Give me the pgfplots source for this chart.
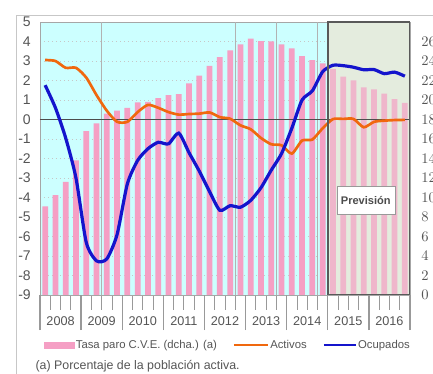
\documentclass[border=0pt]{standalone}
\usepackage{pgfplots}
\pgfplotsset{compat=1.18}
\usepackage{pgfplotstable}
\usepackage{fontspec}
\setmainfont{Liberation Sans}
\setsansfont{Liberation Sans}
\definecolor{cyanbg}{HTML}{CCFFFF}
\definecolor{barpink}{HTML}{F59FC4}
\definecolor{forebg}{HTML}{E4ECDE}
\definecolor{orangeL}{HTML}{F0680E}
\definecolor{blueL}{HTML}{1414CC}
\definecolor{txt}{HTML}{555555}

\pgfplotstableread{
q bar act ocu
0 9.1 3.05 1.76
1 10.25 3.0 0.6
2 11.6 2.65 -0.95
3 13.8 2.65 -3.0
4 16.8 2.15 -6.3
5 17.6 1.25 -7.25
6 18.6 0.45 -7.15
7 18.9 -0.12 -5.9
8 19.2 -0.12 -3.3
9 19.75 0.38 -2.1
10 19.8 0.75 -1.5
11 20.2 0.6 -1.17
12 20.5 0.38 -1.25
13 20.6 0.25 -0.7
14 21.7 0.28 -1.7
15 22.5 0.3 -2.65
16 23.5 0.36 -3.7
17 24.4 0.12 -4.66
18 25.1 0.04 -4.42
19 25.7 -0.3 -4.5
20 26.3 -0.5 -4.15
21 26.05 -0.95 -3.5
22 26.0 -1.27 -2.6
23 25.7 -1.32 -1.75
24 25.3 -1.75 -0.45
25 24.5 -1.08 1.0
26 24.1 -1.03 1.47
27 23.75 -0.45 2.45
28 23.2 0.02 2.78
29 22.4 0.03 2.76
30 22.0 0.03 2.68
31 21.3 -0.4 2.55
32 21.1 -0.12 2.56
33 20.65 -0.06 2.35
34 20.1 -0.03 2.43
35 19.7 -0.02 2.22
}\datatable

\begin{document}
\begin{tikzpicture}
\useasboundingbox (0,0) rectangle (324.75pt,-280.5pt);
\clip (0,0) rectangle (324.75pt,-280.5pt);
\fill[white] (0,0) rectangle (324.75pt,-280.5pt);
\draw[black!22, line width=0.7pt] (12pt,-400pt) -- (12pt,-11.25pt) -- (400pt,-11.25pt);

% bars (right scale)
\begin{axis}[
  at={(30pt,-221.25pt)}, anchor=south west,
  width=277.5pt, height=204.75pt, scale only axis,
  xmin=-0.5, xmax=35.5, ymin=0, ymax=28,
  axis background/.style={fill=cyanbg},
  axis line style={draw=black!35, line width=0.5pt},
  ytick={0,2,...,26}, yticklabel pos=right,
  yticklabel style={anchor=west, inner sep=0pt, xshift=8.25pt, font=\fontsize{10.5}{12}\selectfont, text=txt},
  ymajorgrids,
  major grid style={black!22, dash pattern=on 1pt off 2pt},
  tick align=outside,
  xtick pos=bottom,
  major tick length=0pt,
  tick style={black!40, line width=0.6pt},
  xtick={1.5,5.5,9.5,13.5,17.5,21.5,25.5,29.5,33.5},
  xticklabels={2008,2009,2010,2011,2012,2013,2014,2015,2016},
  xticklabel style={anchor=center, inner sep=0pt, yshift=-19.5pt, font=\fontsize{9.5}{11}\selectfont, text=txt},
  minor xtick={-0.5,0.5,...,35.5},
  minor tick length=11.25pt,
  extra x ticks={-0.5,3.5,7.5,11.5,15.5,19.5,23.5,27.5,31.5,35.5},
  extra x tick labels={},
  extra x tick style={major tick length=26.25pt, tick style={black!40, line width=1pt}},
]
\fill[forebg] (axis cs:27.5,0) rectangle (axis cs:35.5,28);
\draw[black!30, line width=0.6pt] (axis cs:5.5,0) -- (axis cs:5.5,28);
\draw[black!30, line width=0.6pt] (axis cs:18.5,0) -- (axis cs:18.5,28);
\draw[black!30, line width=0.6pt] (axis cs:22.5,0) -- (axis cs:22.5,28);
\draw[black!30, line width=0.6pt] (axis cs:26.5,0) -- (axis cs:26.5,28);
\addplot[ybar, bar width=4.3pt, fill=barpink, draw=none] table[x=q,y=bar]{\datatable};
\fill[forebg, opacity=0.3] (axis cs:27.5,0) rectangle (axis cs:35.5,28);
\end{axis}

% lines (left scale)
\begin{axis}[
  at={(30pt,-221.25pt)}, anchor=south west,
  width=277.5pt, height=204.75pt, scale only axis,
  xmin=-0.5, xmax=35.5, ymin=-9, ymax=5,
  axis line style={draw=none},
  xtick=\empty,
  ytick={-9,-8,...,5},
  major tick length=0pt,
  /pgf/number format/assume math mode=true,
  yticklabel style={anchor=east, inner sep=0pt, xshift=-6.75pt, font=\fontsize{10.5}{12}\selectfont, text=txt},
  legend style={at={(axis description cs:0.01,-0.183)}, anchor=west, draw=none, fill=none,
    inner sep=0pt, font=\fontsize{8.5}{10}\selectfont, text=txt,
    nodes={inner xsep=1pt, inner ysep=0pt},
    /tikz/every even column/.append style={column sep=11pt}},
  legend columns=3,
]
\addlegendimage{legend image code/.code={\fill[barpink] (0pt,-2.25pt) rectangle (22.5pt,2.25pt);}}
\addlegendentry{Tasa paro C.V.E. (dcha.) (a)}
\draw[black!70, line width=0.7pt] (axis cs:-0.5,0) -- (axis cs:35.5,0);
\addplot[orangeL, line width=2pt, smooth, tension=0.4, no marks,
  legend image code/.code={\draw[orangeL, line width=1.5pt] (0pt,0pt) -- (25.5pt,0pt);}]
  table[x=q,y=act]{\datatable};
\addlegendentry{Activos}
\addplot[blueL, line width=2.4pt, smooth, tension=0.4, no marks,
  legend image code/.code={\draw[blueL, line width=1.5pt] (0pt,0pt) -- (24pt,0pt);}]
  table[x=q,y=ocu]{\datatable};
\addlegendentry{Ocupados}
\draw[black!65, line width=1.1pt] (axis cs:27.5,-9) rectangle (axis cs:35.5,5);
\node[draw=black!40, fill=white, minimum width=43.5pt, minimum height=21pt, inner sep=0pt,
  font=\bfseries\fontsize{8.3}{10}\selectfont, text=black!70] at (axis cs:31.2,-4.13) {Previsión};
\end{axis}

\node[anchor=west, inner sep=0pt, font=\fontsize{9.3}{11}\selectfont, text=txt] at (26.5pt,-274.5pt) {(a) Porcentaje de la población activa.};
\end{tikzpicture}
\end{document}
